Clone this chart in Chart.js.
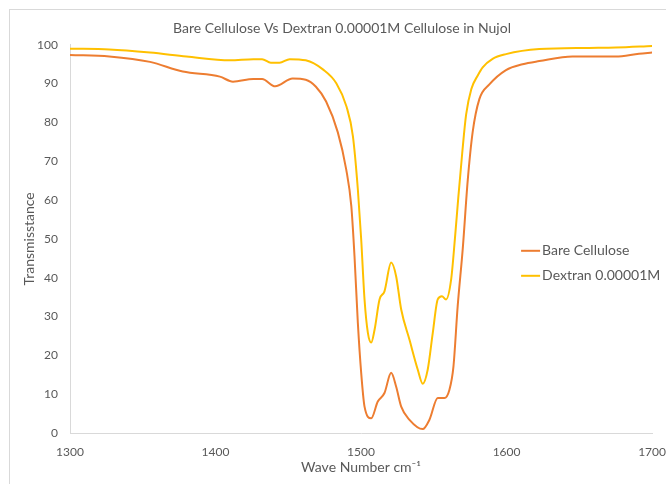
<!DOCTYPE html>
<html>
<head>
<meta charset="utf-8">
<title>Bare Cellulose Vs Dextran 0.00001M Cellulose in Nujol</title>
<script src="https://cdn.jsdelivr.net/npm/chart.js@4/dist/chart.umd.min.js"></script>
<style>
  html, body { margin: 0; padding: 0; background: #ffffff; overflow: hidden; }
  #wrap { position: relative; width: 666px; height: 484px; }
  #frame { position: absolute; left: 9px; top: 9px; width: 700px; height: 500px; border: 1px solid #d9d9d9; box-sizing: border-box; }
  canvas { position: absolute; left: 0; top: 0; }
</style>
</head>
<body>
<div id="wrap">
  <div id="frame"></div>
  <canvas id="chart" width="666" height="484"></canvas>
</div>
<script>
// Infrared spectra (wave number in cm-1, transmittance in %)
const bareWave = [1300, 1327, 1355, 1377.5, 1403, 1412, 1426, 1432, 1441, 1453, 1462, 1469, 1476, 1484, 1489.8, 1493.3, 1495.5, 1497.8, 1500.1, 1502.4, 1507, 1511.5, 1516.1, 1520.7, 1524.1, 1527.6, 1533.3, 1542.4, 1547, 1552.7, 1557.3, 1560.7, 1563.5, 1566.4, 1569.9, 1573.3, 1576.7, 1581.3, 1588.2, 1599.6, 1611, 1622.5, 1645.3, 1675, 1691, 1700];
const bareT = [97.4, 97.0, 95.6, 93.1, 91.8, 90.5, 91.2, 91.2, 89.3, 91.3, 91.0, 89.2, 85.4, 77.5, 67.9, 58.5, 45.6, 28.4, 15.5, 6.8, 3.8, 8.1, 10.3, 15.5, 12.0, 6.8, 3.4, 1.0, 3.4, 9.0, 9.0, 11.1, 17.1, 32.6, 47.5, 65.0, 77.5, 86.0, 89.8, 93.5, 95.0, 95.8, 97.0, 97.0, 97.7, 98.0];

const dextranWave = [1300, 1327, 1355, 1380, 1410, 1426, 1432, 1438, 1444, 1451, 1462, 1474, 1483, 1490, 1494.4, 1497.8, 1500.1, 1502.4, 1504.7, 1507, 1509.3, 1512.7, 1516.1, 1520.7, 1524.1, 1527.6, 1533.3, 1539, 1542.4, 1545.8, 1549.3, 1552.7, 1555.6, 1558.4, 1561.9, 1564.5, 1566.8, 1569.5, 1572.2, 1575.8, 1580.2, 1583.6, 1590.4, 1599.6, 1622.5, 1656.8, 1675, 1700];
const dextranT = [99.0, 98.8, 98.0, 97.0, 96.0, 96.3, 96.3, 95.4, 95.4, 96.3, 96.0, 93.6, 90.1, 84.1, 76.5, 62.8, 49.9, 34.4, 25.8, 23.3, 26.6, 34.4, 36.5, 43.9, 40.4, 31.8, 24.0, 16.3, 12.7, 16.3, 25.8, 34.4, 35.2, 34.4, 39.5, 50.0, 60.5, 72.0, 82.0, 88.6, 92.1, 94.2, 96.4, 97.6, 98.9, 99.2, 99.3, 99.7];

const seriesNames = ['Bare Cellulose', 'Dextran 0.00001M'];
const seriesColors = ['#ed7d31', '#ffc000'];

const xTicks = [1300, 1400, 1500, 1600, 1700];
const yTicks = [0, 10, 20, 30, 40, 50, 60, 70, 80, 90, 100];

const FONT = 'Lato, "Open Sans", sans-serif';
const TEXT = '#595959';

const toPoints = (xs, ys) => xs.map((x, i) => ({ x: x, y: ys[i] }));

// Legend drawn inside the plot area, right side
const insideLegend = {
  id: 'insideLegend',
  afterDraw(chart) {
    const ctx = chart.ctx;
    const area = chart.chartArea;
    const x0 = area.right - 131;
    const y0 = area.top + 206;
    ctx.save();
    ctx.font = '14px ' + FONT;
    ctx.textBaseline = 'middle';
    ctx.textAlign = 'left';
    chart.data.datasets.forEach((ds, i) => {
      const y = y0 + i * 25;
      ctx.strokeStyle = ds.borderColor;
      ctx.lineWidth = 2;
      ctx.beginPath();
      ctx.moveTo(x0, y);
      ctx.lineTo(x0 + 19, y);
      ctx.stroke();
      ctx.fillStyle = TEXT;
      ctx.fillText(ds.label, x0 + 21, y);
    });
    ctx.restore();
  }
};

new Chart(document.getElementById('chart'), {
  type: 'line',
  data: {
    datasets: [
      {
        label: seriesNames[0],
        data: toPoints(bareWave, bareT),
        borderColor: seriesColors[0],
        backgroundColor: seriesColors[0],
        borderWidth: 2,
        pointRadius: 0,
        cubicInterpolationMode: 'monotone',
        fill: false
      },
      {
        label: seriesNames[1],
        data: toPoints(dextranWave, dextranT),
        borderColor: seriesColors[1],
        backgroundColor: seriesColors[1],
        borderWidth: 2,
        pointRadius: 0,
        cubicInterpolationMode: 'monotone',
        fill: false
      }
    ]
  },
  options: {
    responsive: false,
    animation: false,
    layout: { padding: { left: 18, right: 0, top: 0, bottom: 4 } },
    plugins: {
      legend: { display: false },
      tooltip: { enabled: false },
      title: {
        display: true,
        text: 'Bare Cellulose Vs Dextran 0.00001M Cellulose in Nujol',
        color: TEXT,
        font: { family: FONT, size: 14, weight: 'normal' },
        padding: { top: 20, bottom: 8 }
      }
    },
    scales: {
      x: {
        type: 'linear',
        min: 1300,
        max: 1700,
        afterBuildTicks(scale) { scale.ticks = xTicks.map(v => ({ value: v })); },
        afterFit(scale) { scale.height = 47; },
        grid: { display: false, drawTicks: true, tickLength: 12 },
        border: { display: true, color: '#d9d9d9', width: 1 },
        ticks: {
          color: TEXT,
          font: { family: FONT, size: 12 },
          padding: 0,
          maxRotation: 0,
          callback: (v) => String(v)
        },
        title: {
          display: true,
          text: 'Wave Number cm\u207B\u00B9',
          color: TEXT,
          font: { family: FONT, size: 14 },
          padding: { top: 4, bottom: 4 }
        }
      },
      y: {
        min: 0,
        max: 100,
        afterBuildTicks(scale) { scale.ticks = yTicks.map(v => ({ value: v })); },
        afterFit(scale) { scale.width = 52; },
        grid: { display: false, drawTicks: false },
        border: { display: true, color: '#d9d9d9', width: 1 },
        ticks: {
          color: TEXT,
          font: { family: FONT, size: 12 },
          padding: 12,
          callback: (v) => String(v)
        },
        title: {
          display: true,
          text: 'Transmisstance',
          color: TEXT,
          font: { family: FONT, size: 14 },
          padding: { top: 3, bottom: 4 }
        }
      }
    }
  },
  plugins: [insideLegend]
});
</script>
</body>
</html>
